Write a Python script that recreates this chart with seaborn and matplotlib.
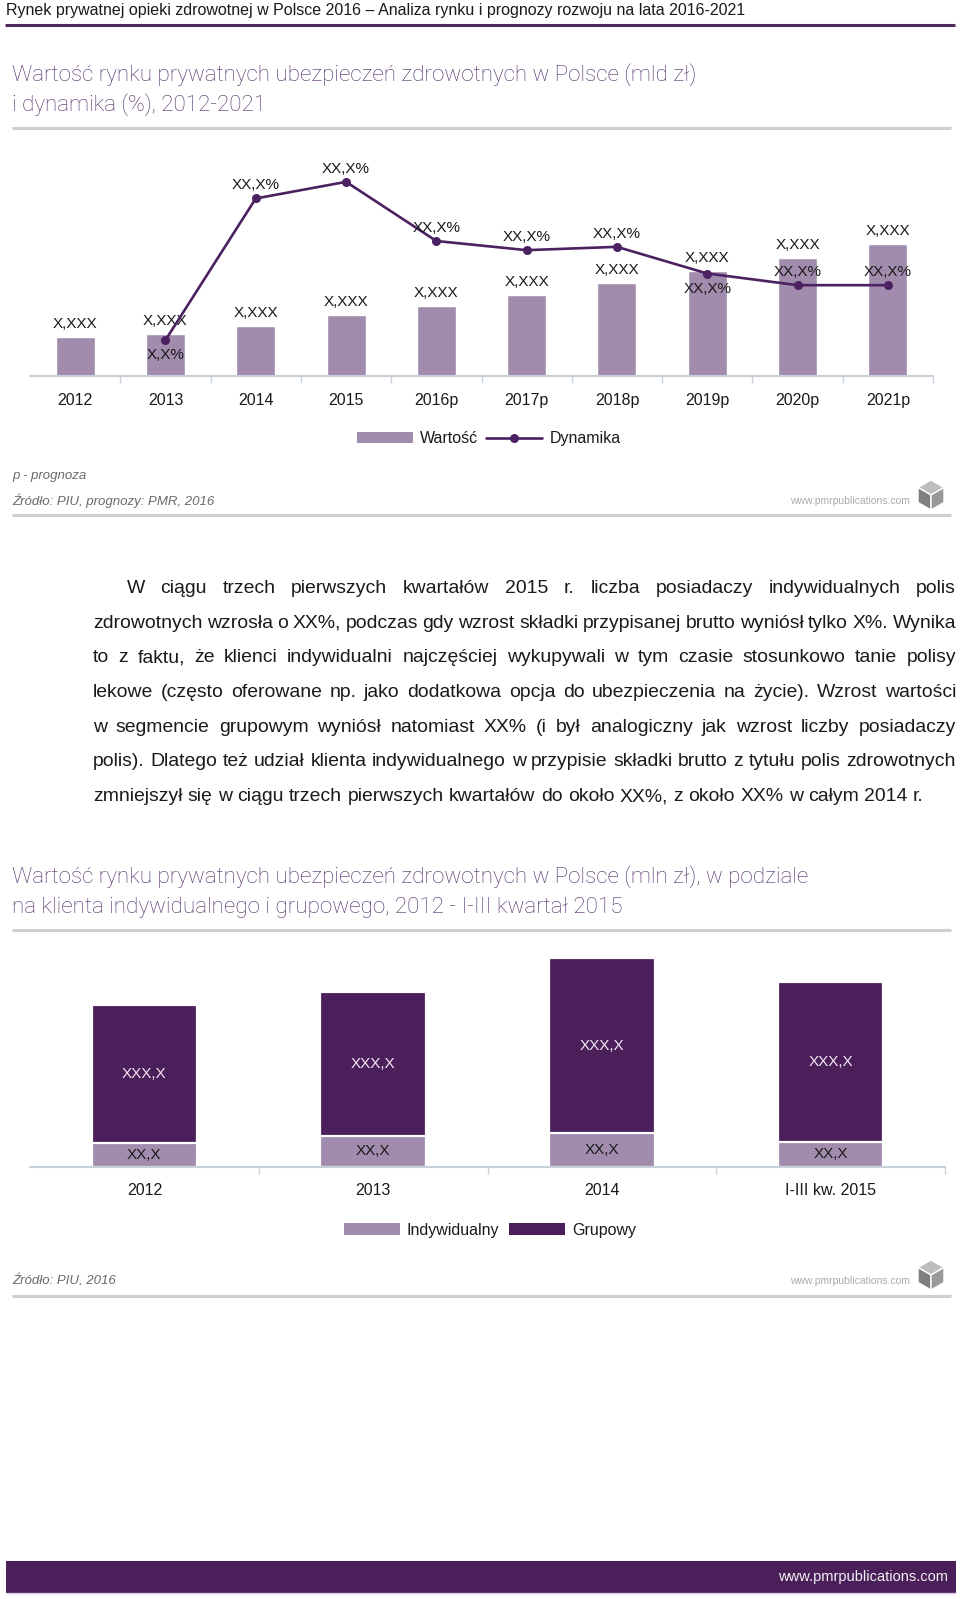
import numpy as np
import pandas as pd
import matplotlib
matplotlib.use("Agg")
import matplotlib.pyplot as plt
import seaborn as sns
from matplotlib.patches import Patch, Rectangle, Polygon
from matplotlib.lines import Line2D

# ---------------- data ----------------
years1 = ["2012", "2013", "2014", "2015", "2016p", "2017p", "2018p", "2019p", "2020p", "2021p"]
wartosc = [0.96, 1.03, 1.23, 1.49, 1.72, 1.98, 2.27, 2.57, 2.89, 3.23]
wartosc_labels = ["X,XXX"] * 10
dyn_years = ["2013", "2014", "2015", "2016p", "2017p", "2018p", "2019p", "2020p", "2021p"]
dynamika = [4.3, 21.3, 23.3, 16.2, 15.1, 15.5, 12.3, 10.9, 10.9]
dyn_labels = ["X,X%", "XX,X%", "XX,X%", "XX,X%", "XX,X%", "XX,X%", "XX,X%", "XX,X%", "XX,X%"]
dyn_label_side = ["below", "above", "above", "above", "above", "above", "below", "above", "above"]

years2 = ["2012", "2013", "2014", "I-III kw. 2015"]
indywidualny = [70.5, 91.5, 102.3, 73.8]
grupowy = [414.3, 431.4, 522.6, 481.2]
indyw_labels = ["XX,X"] * 4
grup_labels = ["XXX,X"] * 4

header = "Rynek prywatnej opieki zdrowotnej w Polsce 2016 \u2013 Analiza rynku i prognozy rozwoju na lata 2016-2021"
title1 = ["Warto\u015b\u0107 rynku prywatnych ubezpiecze\u0144 zdrowotnych w Polsce (mld z\u0142)",
          "i dynamika (%), 2012-2021"]
title2 = ["Warto\u015b\u0107 rynku prywatnych ubezpiecze\u0144 zdrowotnych w Polsce (mln z\u0142), w podziale",
          "na klienta indywidualnego i grupowego, 2012 - I-III kwarta\u0142 2015"]
body = [
    "W ci\u0105gu trzech pierwszych kwarta\u0142\u00f3w 2015 r. liczba posiadaczy indywidualnych polis",
    "zdrowotnych wzros\u0142a o XX%, podczas gdy wzrost sk\u0142adki przypisanej brutto wyni\u00f3s\u0142 tylko X%. Wynika",
    "to z faktu, \u017ce klienci indywidualni najcz\u0119\u015bciej wykupywali w tym czasie stosunkowo tanie polisy",
    "lekowe (cz\u0119sto oferowane np. jako dodatkowa opcja do ubezpieczenia na \u017cycie). Wzrost warto\u015bci",
    "w segmencie grupowym wyni\u00f3s\u0142 natomiast XX% (i by\u0142 analogiczny jak wzrost liczby posiadaczy",
    "polis). Dlatego te\u017c udzia\u0142 klienta indywidualnego w przypisie sk\u0142adki brutto z tytu\u0142u polis zdrowotnych",
    "zmniejszy\u0142 si\u0119 w ci\u0105gu trzech pierwszych kwarta\u0142\u00f3w do oko\u0142o XX%, z oko\u0142o XX% w ca\u0142ym 2014 r.",
]

# ---------------- style ----------------
sns.set_theme(style="white")
plt.rcParams['font.family'] = ['Liberation Sans', 'DejaVu Sans']
NARROW = ['Liberation Sans Narrow', 'Liberation Sans', 'DejaVu Sans']
LIGHTF = ['Roboto', 'Liberation Sans', 'DejaVu Sans']

LIGHT = "#a28cae"
DARK = "#4a1f5a"
LINEC = "#4b2162"
TITLEC = "#4f2c66"
AXISC = "#c8d0da"
RULEC = "#cfcfcf"

W, H = 960, 1599
fig = plt.figure(figsize=(W / 100, H / 100), dpi=100)


def X(px):
    return px / W


def Y(py):
    return 1 - py / H


def hrule(x0, x1, y, color, lw):
    fig.add_artist(Line2D([X(x0), X(x1)], [Y(y), Y(y)], color=color, lw=lw,
                          transform=fig.transFigure, solid_capstyle='butt'))


def logo(cx, cy, r):
    import math
    pts = {}
    for a in (30, 90, 150, 210, 270, 330):
        pts[a] = (cx + r * math.cos(math.radians(a)), cy - r * math.sin(math.radians(a)))
    c = (cx, cy)
    faces = [([c, pts[30], pts[90], pts[150]], "#bdbdbd"),
             ([c, pts[150], pts[210], pts[270]], "#7f7f7f"),
             ([c, pts[270], pts[330], pts[30]], "#999999")]
    for poly, col in faces:
        fig.add_artist(Polygon([(X(p[0]), Y(p[1])) for p in poly], closed=True,
                               facecolor=col, edgecolor="white", lw=1.0,
                               transform=fig.transFigure))


# ---------------- header ----------------
fig.text(X(6), Y(11), header, fontsize=11.5, family=NARROW, color="#1a1a1a", va='center', ha='left')
hrule(5, 955, 24.5, "#4e2c5e", 2.2)

# ---------------- chart 1 ----------------
TFS = 16.1
fig.text(X(12), Y(74.5), title1[0], fontsize=TFS, family=LIGHTF, fontweight='light', color=TITLEC, va='center')
fig.text(X(12), Y(105), title1[1], fontsize=TFS, family=LIGHTF, fontweight='light', color=TITLEC, va='center')
hrule(12, 951, 127.5, RULEC, 2.2)

ax1 = fig.add_axes([X(30), Y(376), (933 - 30) / W, (376 - 140) / H])
df1 = pd.DataFrame({"Rok": years1, "Warto\u015b\u0107": wartosc})
sns.barplot(data=df1, x="Rok", y="Warto\u015b\u0107", color=LIGHT, saturation=1, width=0.432, ax=ax1)
ax1.set_xlim(-0.5, 9.5)
ax1.set_ylim(0, 236 * 0.0245)
for i, (v, lab) in enumerate(zip(wartosc, wartosc_labels)):
    ax1.annotate(lab, (i, v), xytext=(0, 9.5), textcoords='offset points',
                 ha='center', va='center', fontsize=11, color="#1a1a1a")

ax1b = ax1.twinx()
xpos = [years1.index(y) for y in dyn_years]
sns.lineplot(x=xpos, y=dynamika, color=LINEC, marker='o', markersize=6.5, linewidth=1.9,
             markeredgewidth=0, ax=ax1b)
ax1b.set_ylim(0, 236 * 0.12)
ax1b.set_xlim(-0.5, 9.5)
for x, v, lab, side in zip(xpos, dynamika, dyn_labels, dyn_label_side):
    off = 9.5 if side == "above" else -11
    ax1b.annotate(lab, (x, v), xytext=(0, off), textcoords='offset points',
                  ha='center', va='center', fontsize=11, color="#1a1a1a")

for a in (ax1, ax1b):
    for s in ("left", "right", "top"):
        a.spines[s].set_visible(False)
    a.set_yticks([])
    a.set_ylabel("")
    a.set_xlabel("")
ax1b.spines["bottom"].set_visible(False)
ax1.spines["bottom"].set_color(AXISC)
ax1.spines["bottom"].set_linewidth(1.5)
ax1.set_xticks(range(len(years1)))
ax1.set_xticklabels(years1)
ax1.set_xticks(np.arange(0.5, len(years1), 1), minor=True)
ax1.tick_params(axis='x', which='major', length=0, pad=12, labelsize=11.5, labelcolor="#1a1a1a")
ax1.tick_params(axis='x', which='minor', bottom=True, length=5, width=1, color=AXISC, direction='out')

fig.legend(handles=[Patch(facecolor=LIGHT, edgecolor='none', label="Warto\u015b\u0107"),
                    Line2D([], [], color=LINEC, marker='o', lw=1.9, markersize=6.5, markeredgewidth=0,
                           label="Dynamika")],
           loc='center', bbox_to_anchor=(X(489), Y(438.7)), ncol=2, frameon=False, fontsize=11.5,
           handlelength=3.5, handletextpad=0.45, columnspacing=0.5, labelcolor="#1a1a1a")

fig.text(X(12), Y(475.5), "p - prognoza", fontsize=9.5, style='italic', color="#6a6a6a", va='center')
fig.text(X(12), Y(501), "\u0179r\u00f3d\u0142o: PIU, prognozy: PMR, 2016", fontsize=9.5, style='italic',
         color="#6a6a6a", va='center')
fig.text(X(910), Y(501), "www.pmrpublications.com", fontsize=7.5, color="#aaaaaa", va='center', ha='right')
logo(931, 495, 15)
hrule(12, 951, 515, RULEC, 2.2)

# ---------------- body text ----------------
renderer = fig.canvas.get_renderer()


def measure(s, fs):
    t = fig.text(0, 0, s, fontsize=fs, family=NARROW)
    w = t.get_window_extent(renderer).width
    t.remove()
    return w


fs_body = 14.5 * 863 / measure(body[5], 14.5)
space_w = measure("a a", fs_body) - measure("aa", fs_body)
line_y = [588.7, 623.4, 658.0, 692.7, 727.4, 762.0, 796.8]
for k, (line, yy) in enumerate(zip(body, line_y)):
    x0 = 126.5 if k == 0 else 92.8
    x1 = 956
    words = line.split(" ")
    texts = [fig.text(0, Y(yy), w, fontsize=fs_body, family=NARROW, color="#1a1a1a",
                      va='center', ha='left') for w in words]
    widths = [t.get_window_extent(renderer).width for t in texts]
    if k < len(body) - 1:
        gap = (x1 - x0 - sum(widths)) / (len(words) - 1)
    else:
        gap = space_w
    x = x0
    for t, wd in zip(texts, widths):
        t.set_x(X(x))
        x += wd + gap

# ---------------- chart 2 ----------------
fig.text(X(12), Y(876.4), title2[0], fontsize=TFS, family=LIGHTF, fontweight='light', color=TITLEC, va='center')
fig.text(X(12), Y(907), title2[1], fontsize=TFS, family=LIGHTF, fontweight='light', color=TITLEC, va='center')
hrule(12, 951, 930, RULEC, 2.2)

ax2 = fig.add_axes([X(30), Y(1166.7), (945 - 30) / W, (1166.7 - 940) / H])
total = [a + b for a, b in zip(indywidualny, grupowy)]
df2 = pd.DataFrame({"Okres": years2, "Indywidualny": indywidualny, "Grupowy": grupowy, "Razem": total})
sns.barplot(data=df2, x="Okres", y="Razem", color=DARK, saturation=1, width=0.462,
            edgecolor="white", linewidth=1.6, ax=ax2)
sns.barplot(data=df2, x="Okres", y="Indywidualny", color=LIGHT, saturation=1, width=0.462,
            edgecolor="white", linewidth=1.6, ax=ax2)
ax2.set_xlim(-0.5, 3.5)
ax2.set_ylim(0, 226.7 * 3.0)
for i in range(len(years2)):
    ax2.text(i, indywidualny[i] / 2, indyw_labels[i], ha='center', va='center', fontsize=11, color="#1a1a1a")
    ax2.text(i, indywidualny[i] + grupowy[i] / 2, grup_labels[i], ha='center', va='center',
             fontsize=11, color="#f4e6f4")
for s in ("left", "right", "top"):
    ax2.spines[s].set_visible(False)
ax2.spines["bottom"].set_color(AXISC)
ax2.spines["bottom"].set_linewidth(1.5)
ax2.set_yticks([])
ax2.set_ylabel("")
ax2.set_xlabel("")
ax2.set_xticks(range(len(years2)))
ax2.set_xticklabels(years2)
ax2.set_xticks(np.arange(0.5, len(years2), 1), minor=True)
ax2.tick_params(axis='x', which='major', length=0, pad=12, labelsize=11.5, labelcolor="#1a1a1a")
ax2.tick_params(axis='x', which='minor', bottom=True, length=5, width=1, color=AXISC, direction='out')

fig.legend(handles=[Patch(facecolor=LIGHT, edgecolor='none', label="Indywidualny"),
                    Patch(facecolor=DARK, edgecolor='none', label="Grupowy")],
           loc='center', bbox_to_anchor=(X(490), Y(1230)), ncol=2, frameon=False, fontsize=11.5,
           handlelength=3.5, handletextpad=0.45, columnspacing=0.6, labelcolor="#1a1a1a")

fig.text(X(12), Y(1281.4), "\u0179r\u00f3d\u0142o: PIU, 2016", fontsize=9.5, style='italic',
         color="#6a6a6a", va='center')
fig.text(X(910), Y(1281.4), "www.pmrpublications.com", fontsize=7.5, color="#aaaaaa", va='center', ha='right')
logo(931, 1275, 15)
hrule(12, 951, 1295.6, RULEC, 2.2)

# ---------------- footer ----------------
fig.add_artist(Rectangle((X(6), Y(1592.5)), (956 - 6) / W, (1592.5 - 1561) / H,
                         transform=fig.transFigure, facecolor=DARK, edgecolor='none'))
hrule(6, 956, 1593, "#d9c6e3", 1.0)
fig.text(X(948), Y(1576.5), "www.pmrpublications.com", fontsize=10.5, family=NARROW,
         color="#f2f2f2", va='center', ha='right')

fig.savefig("out.png", dpi=100)
